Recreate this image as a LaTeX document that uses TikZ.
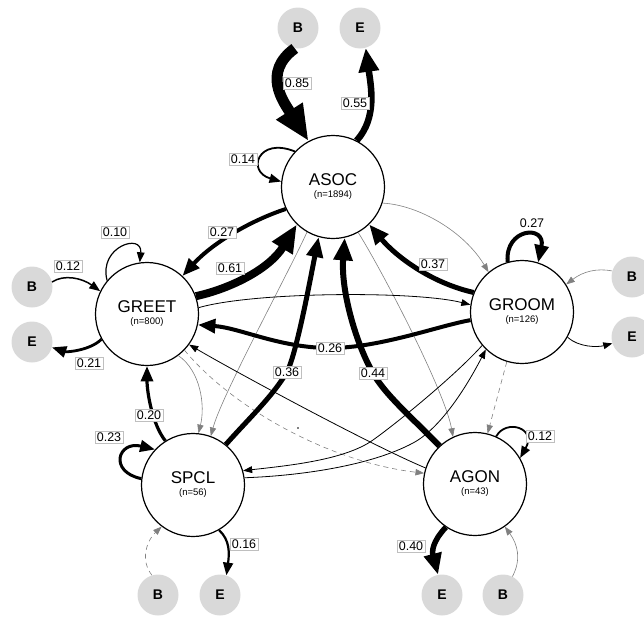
\documentclass[tikz,border=0pt]{standalone}
\usepackage{fontspec}
\setmainfont{Liberation Sans}
\usetikzlibrary{arrows.meta}

\tikzset{
  state/.style={circle, draw=black, line width=1.2pt, fill=white, minimum size=103pt, inner sep=0pt},
  term/.style={circle, fill=black!15, minimum size=41pt, inner sep=0pt,
    font=\fontsize{14}{14}\selectfont\bfseries},
  nm/.style={font=\fontsize{17}{17}\selectfont, inner sep=0pt, anchor=base},
  cnt/.style={font=\fontsize{9.5}{9.5}\selectfont, inner sep=0pt, anchor=base},
  lbl/.style={font=\fontsize{12.5}{12.5}\selectfont, fill=white, draw=black!25,
    line width=0.5pt, inner xsep=2pt, inner ysep=1.8pt},
  tip/.style={-{Triangle[length=7pt 2.6, width=5pt 2.2]}},
  flow/.style={line width=#1, draw=black, tip},
  plain/.style={line width=0.8pt, draw=black, tip},
  faint/.style={line width=0.6pt, draw=black!50, tip},
  faintdash/.style={faint, dash pattern=on 5pt off 4pt},
}

\begin{document}
\begin{tikzpicture}[x=1pt, y=-1pt]
\useasboundingbox (0,0) rectangle (644,616);

% behaviour states
\node[state] (ASOC)  at (333,187) {};
\node[state] (GREET) at (147,314) {};
\node[state] (GROOM) at (522,312) {};
\node[state] (SPCL)  at (193,485) {};
\node[state] (AGON)  at (475,484) {};

\node[nm]  (ASOC-t)  at ([yshift=2pt]ASOC.center)     {ASOC};
\node[cnt] (ASOC-c)  at ([yshift=-10.5pt]ASOC.center) {(n=1894)};
\node[nm]  (GREET-t) at ([yshift=2pt]GREET.center)    {GREET};
\node[cnt] (GREET-c) at ([yshift=-10.5pt]GREET.center) {(n=800)};
\node[nm]  (GROOM-t) at ([yshift=2pt]GROOM.center)    {GROOM};
\node[cnt] (GROOM-c) at ([yshift=-10.5pt]GROOM.center) {(n=126)};
\node[nm]  (SPCL-t)  at ([yshift=2pt]SPCL.center)     {SPCL};
\node[cnt] (SPCL-c)  at ([yshift=-10.5pt]SPCL.center) {(n=56)};
\node[nm]  (AGON-t)  at ([yshift=2pt]AGON.center)     {AGON};
\node[cnt] (AGON-c)  at ([yshift=-10.5pt]AGON.center) {(n=43)};

% begin / end terminals
\node[term] (Btop) at (298,28)  {B};
\node[term] (Etop) at (360,28)  {E};
\node[term] (Bl)   at (32,287)  {B};
\node[term] (El)   at (32,342)  {E};
\node[term] (Br)   at (632,277) {B};
\node[term] (Er)   at (632,337) {E};
\node[term] (Bbl)  at (158,595) {B};
\node[term] (Ebl)  at (220,595) {E};
\node[term] (Ebr)  at (442,595) {E};
\node[term] (Bbr)  at (503,595) {B};

% waypoints where labelled curves pass
\coordinate (m26) at (330,348);
\coordinate (m36) at (287,372);
\coordinate (m44) at (373,373);
\coordinate (mGS) at (373,440);
\coordinate (mSG) at (413,443);

% faint and dashed transitions
\draw[faint] (ASOC.342) .. controls +(37,2) and +(-24,-40) .. (GROOM.130);
\draw[faint] (ASOC.240) .. controls +(-17,38) and +(11,-41) .. (SPCL.70);
\draw[faint] (ASOC.299) .. controls +(25,40) and +(-8,-45) .. (AGON.115);
\draw[faint] (GREET.307) .. controls +(22,15) and +(7,-28) .. (SPCL.84);
\draw[faint] (Br.163) .. controls +(-15,-3) and +(17,-13) .. (GROOM.32);
\draw[faint] (Bbr.63) .. controls +(9,-17) and +(13,18) .. (AGON.305);
\draw[faintdash] (GROOM.253) -- (AGON.76);
\draw[faintdash] (GREET.316) .. controls +(48,58) and +(-94,-11) .. (AGON.168);
\draw[faintdash] (Bbl.107) .. controls +(-12,-15) and +(-15,14) .. (SPCL.233);

% thin transitions
\draw[plain] (GREET.7) .. controls +(55,-16) and +(-55,-14) .. (GROOM.172);
\draw[plain] (AGON.162) .. controls +(-55,-23) and +(46,27) .. (GREET.324);
\draw[plain] (GROOM.220) .. controls +(-25,28) and +(28,-20) .. (mGS)
             .. controls +(-28,20) and +(45,-5) .. (SPCL.16);
\draw[plain] (SPCL.8) .. controls +(55,-2) and +(-43,23) .. (mSG)
             .. controls +(30,-16) and +(-16,31) .. (GROOM.226);
\draw[plain] (GROOM.331) .. controls +(11,10) and +(-15,4) .. (Er.198);

% weighted transitions
\draw[flow=11pt] (Btop.261) .. controls +(-33,24) and +(-25,-39) .. (ASOC.118);
\draw[flow=6.5pt] (ASOC.63) .. controls +(21,-23) and +(5,37) .. (Etop.286);
\draw[flow=1.8pt] (ASOC.137) .. controls +(-37,-15) and +(-35,-10) .. (ASOC.174);
\draw[flow=4pt] (ASOC.205) .. controls +(-31,10) and +(32,-35) .. (GREET.47);
\draw[flow=8pt] (GREET.20) .. controls +(36,-8) and +(-27,44) .. (ASOC.226);
\draw[flow=1.2pt] (GREET.140) .. controls +(-9,-34) and +(3,-30) .. (GREET.98);
\draw[flow=1.5pt] (Bl.14) .. controls +(12,-8) and +(-18,-13) .. (GREET.154);
\draw[flow=2.8pt] (GREET.209) .. controls +(-11,11) and +(15,5) .. (El.345);
\draw[flow=4pt] (GROOM.189) .. controls +(-30,5) and +(50,0) .. (m26)
                .. controls +(-50,0) and +(42,3) .. (GREET.348);
\draw[flow=5pt] (GROOM.158) .. controls +(-44,-10) and +(26,31) .. (ASOC.314);
\draw[flow=4pt] (GROOM.106) .. controls +(-3,-34) and +(8,-38) .. (GROOM.72);
\draw[flow=5pt] (SPCL.51) .. controls +(24,-27) and +(-15,25) .. (m36)
                .. controls +(10,-20) and +(-8,40) .. (ASOC.254);
\draw[flow=6pt] (AGON.133) .. controls +(-25,-26) and +(12,22) .. (m44)
                .. controls +(-16,-27) and +(-4,54) .. (ASOC.283);
\draw[flow=1.8pt] (AGON.66) .. controls +(10,-18) and +(17,-30) .. (AGON.30);
\draw[flow=5.5pt] (AGON.236) .. controls +(-14,15) and +(-6,-23) .. (Ebr.101);
\draw[flow=3.2pt] (SPCL.122) .. controls +(-13,-16) and +(0,26) .. (GREET.270);
\draw[flow=3pt] (SPCL.173) .. controls +(-33,-7) and +(-37,-9) .. (SPCL.137);
\draw[flow=2.2pt] (SPCL.300) .. controls +(11,10) and +(3,-22) .. (Ebl.72);

% stray point
\fill (298,428) circle (0.8);

% transition probabilities
\node[lbl] (p85)  at (297,83)  {0.85};
\node[lbl] (p55)  at (355,103) {0.55};
\node[lbl] (p14)  at (243,159) {0.14};
\node[lbl] (p27a) at (222,232) {0.27};
\node[lbl] (p61)  at (230,268) {0.61};
\node[lbl] (p10)  at (115,232) {0.10};
\node[lbl] (p12a) at (68,266)  {0.12};
\node[lbl] (p21)  at (89,363)  {0.21};
\node[lbl] (p26)  at (m26)     {0.26};
\node[lbl] (p37)  at (433,264) {0.37};
\node[lbl, draw=none] (p27b) at (532,223) {0.27};
\node[lbl] (p36)  at (m36)     {0.36};
\node[lbl] (p44)  at (m44)     {0.44};
\node[lbl] (p12b) at (540,436) {0.12};
\node[lbl] (p40)  at (411,546) {0.40};
\node[lbl] (p20)  at (149,415) {0.20};
\node[lbl] (p23)  at (109,437) {0.23};
\node[lbl] (p16)  at (244,544) {0.16};
\end{tikzpicture}
\end{document}
